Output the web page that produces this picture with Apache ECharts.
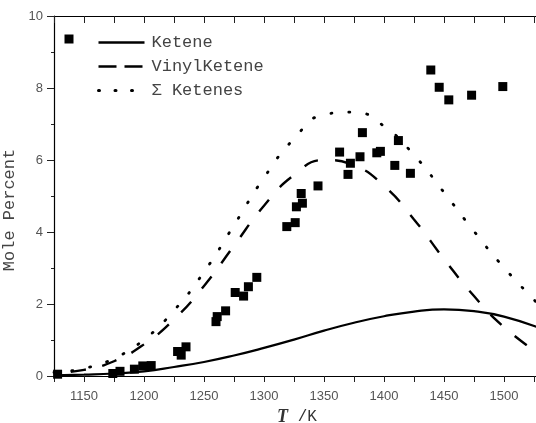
<!DOCTYPE html>
<html>
<head>
<meta charset="utf-8">
<script src="https://cdn.jsdelivr.net/npm/echarts@6/dist/echarts.min.js"></script>
<style>html,body{margin:0;padding:0;background:#fff;}#c{width:536px;height:423px;}</style>
</head>
<body>
<div id="c"></div>
<script>
// Model curves (T in K, mole percent)
const temps = [1125,1150,1175,1200,1225,1250,1275,1300,1325,1350,1375,1400,1425,1450,1475,1500,1530];
const keteneVals = [0.02,0.04,0.07,0.13,0.25,0.39,0.57,0.78,1.01,1.26,1.48,1.66,1.79,1.85,1.80,1.65,1.33];
const vinylVals  = [0.08,0.17,0.41,0.88,1.57,2.50,3.62,4.73,5.58,6.00,5.85,5.28,4.35,3.25,2.22,1.36,0.60];
const sumVals    = [0.10,0.21,0.49,1.01,1.82,2.89,4.19,5.51,6.59,7.26,7.33,6.94,6.14,5.10,4.02,3.01,1.95];
// Measured points
const expT = [1128,1174,1180,1192,1199,1206,1228,1231,1235,1260,1261,1268,1276,1283,1287,1294,1319,1326,1327,1332,1331,1345,1363,1372,1370,1380,1382,1394,1397,1409,1412,1422,1439,1446,1454,1473,1499];
const expV = [0.05,0.07,0.13,0.19,0.28,0.29,0.68,0.58,0.81,1.51,1.65,1.81,2.32,2.22,2.48,2.74,4.15,4.26,4.70,4.80,5.07,5.28,6.22,5.91,5.60,6.09,6.76,6.20,6.24,5.85,6.54,5.63,8.50,8.02,7.67,7.80,8.04];
const xTicks = [1150,1200,1250,1300,1350,1400,1450,1500];
const yTicks = [0,2,4,6,8,10];

const zip = (a,b)=>a.map((v,i)=>[v,b[i]]);
const mono = 'Liberation Mono';
const chart = echarts.init(document.getElementById('c'), null, {renderer:'canvas'});
chart.setOption({
  animation:false,
  backgroundColor:'#fff',
  grid:{left:54, top:16, width:486, height:360, containLabel:false, outerBoundsMode:'none'},
  legend:[
    {data:['Data'], left:64.5, top:34.5, padding:0, itemWidth:9, itemHeight:9, formatter:()=>'' , selectedMode:false,
     itemStyle:{opacity:1}},
    {data:[
       {name:'Ketene', lineStyle:{type:'solid', width:2.4}},
       {name:'VinylKetene', lineStyle:{type:[18,8], dashOffset:0, width:2.6}},
       {name:'\u03A3 Ketenes', lineStyle:{type:[1,15.5], dashOffset:0, width:3, cap:'round'}}
     ],
     orient:'vertical', left:97, top:34, padding:0, itemWidth:46, itemHeight:14, itemGap:7,
     selectedMode:false, itemStyle:{opacity:0},
     textStyle:{fontFamily:mono, fontSize:17, color:'#444', padding:[0,0,0,2]}}
  ],
  xAxis:[
    {type:'value', min:1125, max:1530, interval:25, position:'bottom',
     name:'{it|T} /K', nameLocation:'middle', nameGap:31,
     nameTextStyle:{fontFamily:mono, fontSize:16, color:'#333',
       rich:{it:{fontFamily:'Liberation Serif', fontStyle:'italic', fontWeight:'bold', fontSize:18, color:'#333'}}},
     axisLine:{show:true, onZero:false, lineStyle:{color:'#000', width:1.2}},
     axisTick:{show:true, inside:false, length:6, lineStyle:{color:'#222'}},
     axisLabel:{margin:14, fontFamily:'Liberation Sans', fontSize:13, color:'#555',
       formatter:v=> xTicks.includes(v) ? String(v) : ''},
     splitLine:{show:false}},
    {type:'value', min:1125, max:1530, interval:25, position:'top',
     axisLine:{show:true, onZero:false, lineStyle:{color:'#000', width:1.2}},
     axisTick:{show:true, inside:true, length:7, lineStyle:{color:'#222'}},
     axisLabel:{show:false}, splitLine:{show:false}}
  ],
  yAxis:[
    {type:'value', min:0, max:10, interval:2,
     name:'Mole Percent', nameLocation:'middle', nameGap:33, nameRotate:90,
     nameTextStyle:{fontFamily:mono, fontSize:17, color:'#444', padding:[0,28,0,0]},
     axisLine:{show:true, onZero:false, lineStyle:{color:'#000', width:1.2}},
     axisTick:{show:true, inside:false, length:7, lineStyle:{color:'#222'}},
     minorTick:{show:true, splitNumber:2, length:3, lineStyle:{color:'#222'}},
     axisLabel:{margin:11, fontFamily:'Liberation Sans', fontSize:13, color:'#555',
       formatter:v=> yTicks.includes(v) ? String(v) : ''},
     splitLine:{show:false}}
  ],
  series:[
    {name:'Ketene', type:'line', data:zip(temps,keteneVals), smooth:true, symbol:'none',
     lineStyle:{color:'#000', width:2.2}, itemStyle:{color:'#000'}, z:3},
    {name:'VinylKetene', type:'line', data:zip(temps,vinylVals), smooth:true, symbol:'none',
     lineStyle:{color:'#000', width:2.4, type:[15,17], dashOffset:15}, itemStyle:{color:'#000'}, z:3},
    {name:'\u03A3 Ketenes', type:'line', data:zip(temps,sumVals), smooth:true, symbol:'none',
     lineStyle:{color:'#000', width:2.8, type:[1,17], cap:'round'}, itemStyle:{color:'#000'}, z:3},
    {name:'Data', type:'scatter', data:zip(expT,expV), symbol:'rect', symbolSize:9,
     itemStyle:{color:'#000', opacity:1}, z:4}
  ]
});
</script>
</body>
</html>
